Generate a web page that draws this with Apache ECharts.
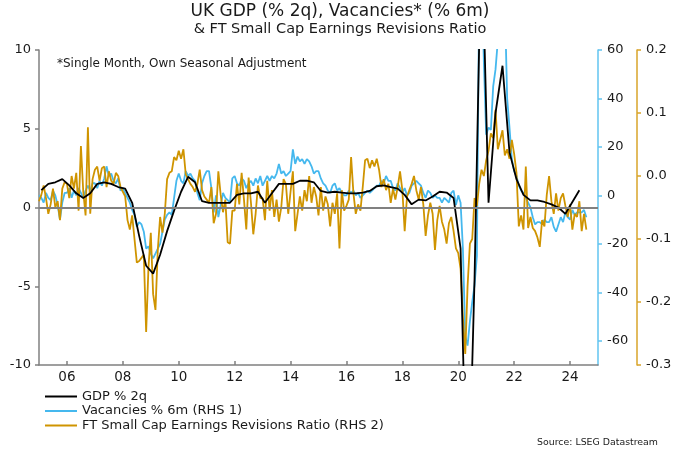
<!DOCTYPE html>
<html>
<head>
<meta charset="utf-8">
<script src="https://cdn.jsdelivr.net/npm/echarts@6.0.0/dist/echarts.min.js"></script>
<style>
html,body{margin:0;padding:0;background:#fff;}
#chart{width:680px;height:453px;}
</style>
</head>
<body>
<div id="chart"></div>
<script>
// ---- data ----
const START_YEAR = 2005;           // first month / quarter of all series
const xTickYears = [2006, 2008, 2010, 2012, 2014, 2016, 2018, 2020, 2022, 2024];
const gdpTicks = [-10, -5, 0, 5, 10];
const vacTicks = [-60, -40, -20, 0, 20, 40, 60];
const revTicks = [-0.3, -0.2, -0.1, 0, 0.1, 0.2];

// GDP % 2q, quarterly from 2005 Q1 (plotted mid-quarter)
const gdp2q = [
  1.1, 1.5, 1.6, 1.8,
  1.4, 0.9, 0.6, 0.9,
  1.5, 1.6, 1.5, 1.3,
  1.2, 0.3, -1.8, -3.7,
  -4.2, -3.0, -1.5, -0.2,
  1.0, 1.95, 1.6, 0.4,
  0.3, 0.3, 0.3, 0.3,
  0.8, 0.9, 0.9, 1.0,
  0.3, 0.9, 1.5, 1.5,
  1.5, 1.7, 1.7, 1.6,
  1.05, 0.95, 1.0, 0.95,
  0.9, 0.9, 0.95, 1.05,
  1.35, 1.4, 1.3, 1.2,
  0.8, 0.2, 0.5, 0.45,
  0.7, 1.0, 0.95, 0.6,
  -2.6, -21, -4.5, 18,
  0.3, 6.0, 9.0, 3.5,
  1.8, 0.8, 0.45, 0.45,
  0.35, 0.2, 0.0, -0.4,
  0.35, 1.1
];

// Vacancies % 6m, monthly from Jan 2005
const vacancies6m = [
  0, -1, -3, 1, -1, -2, 2, 0, -4, -10, -3, 1,
  1, 3, -1, 2, 0, 3, 1, -1, 2, 4, 2, 5,
  5, 3, 6, 4, 7, 12, 8, 9, 6, 5, 7, 2,
  3, 1, -1, -3, -6, -8, -13, -11, -12, -15, -22, -21,
  -24, -26, -24, -22, -20, -15, -10, -8, -7, -8, -1, 6,
  9, 6, 5, 10, 8, 9, 7, 6, 1, -2, 5, 8,
  10, 10, 3, -7, 0, -9, -4, 1, -1, -2, -3, 7,
  8, 5, 4, 7, 6, 3, 5, 6, 4, 7, 5, 8,
  4, 6, 8, 6, 8, 7, 9, 13, 9, 10, 8, 9,
  10, 19, 13, 16, 14, 15, 13, 15, 14, 12, 9, 10,
  10, 7, 5, 4, 2, 1, 4, 5, 2, 3, 1, 0,
  0, 2, 1, 2, 0, 1, -1, 0, 1, 2, 1, 2,
  3, 4, 4, 6, 5, 8, 6, 6, 3, 2, 5, 3,
  1, 3, 0, 1, 4, 5, 6, 5, 4, 1, -1, 2,
  1, -1, 0, -1, -1, -3, -1, -2, -3, 1, 2, -4,
  0, -3, -22, -58, -62, -52, -44, -37, -25, 85, 95, 55,
  25, 28, 27, 45, 52, 64, 95, 100, 80, 40, 28, 15,
  10, 8, 4, 2, 1, -1, -3, -5, -9, -12, -11, -11,
  -12, -10, -11, -11, -9, -13, -15, -12, -9, -11, -7, -9,
  -10, -6, -8, -7, -7, -7, -6, -9
];

// FT Small Cap earnings revisions ratio, monthly from Jan 2005
const revisionsRatio = [
  -0.04, -0.03, -0.015, -0.035, -0.06, -0.045, -0.02, -0.05, -0.04, -0.07, -0.02, -0.01,
  -0.0125, -0.035, 0.0, -0.02, 0.005, -0.055, 0.0475, -0.025, -0.0625, 0.0775, -0.06, -0.005,
  0.01, 0.015, -0.0075, 0.0125, 0.015, -0.0175, 0.0075, -0.0075, -0.0125, 0.005, 0.0, -0.0175,
  -0.025, -0.0325, -0.07, -0.085, -0.0625, -0.1, -0.1375, -0.135, -0.13, -0.125, -0.2475, -0.145,
  -0.09, -0.1875, -0.2125, -0.1175, -0.065, -0.09, -0.06, -0.005, 0.005, 0.0075, 0.03, 0.025,
  0.04, 0.0275, 0.0425, 0.0025, -0.005, -0.0125, -0.0175, -0.025, -0.0125, 0.01, -0.0225, -0.0325,
  -0.0375, -0.0425, -0.0175, -0.075, -0.06, 0.0075, -0.03, -0.0575, -0.0375, -0.105, -0.1075, -0.055,
  -0.055, -0.0125, -0.045, 0.005, -0.0375, -0.085, -0.0025, -0.0425, -0.0925, -0.06, -0.015, -0.035,
  -0.035, -0.07, -0.0075, -0.055, -0.0225, -0.065, -0.0375, -0.0725, -0.05, -0.005, -0.0125, -0.06,
  -0.025, 0.0075, -0.0875, -0.06, -0.0325, -0.055, -0.0225, -0.04, 0.0, -0.0425, -0.0175, -0.0325,
  -0.0625, -0.0175, -0.055, -0.0325, -0.045, -0.08, -0.0425, -0.06, -0.0275, -0.115, -0.0225, -0.055,
  -0.0475, -0.0375, 0.03, -0.0275, -0.06, -0.045, -0.055, -0.0175, 0.025, 0.0275, 0.0125, 0.025,
  0.015, 0.0275, 0.01, -0.0175, -0.005, -0.0225, -0.0125, -0.0425, -0.02, -0.0375, -0.0175, 0.0075,
  -0.0225, -0.0875, -0.0325, -0.0225, -0.0125, 0.0, -0.0225, -0.0375, -0.0175, -0.045, -0.095, -0.0625,
  -0.0425, -0.06, -0.1175, -0.07, -0.0475, -0.0725, -0.085, -0.1075, -0.075, -0.065, -0.0875, -0.115,
  -0.1225, -0.1475, -0.225, -0.2825, -0.175, -0.1075, -0.1, -0.035, -0.0475, -0.0125, 0.01, 0.0,
  0.025, 0.04, 0.0675, 0.06, 0.105, 0.0425, 0.0575, 0.0725, 0.0325, 0.0425, 0.0275, 0.0575,
  0.035, 0.005, -0.08, -0.0625, -0.085, 0.015, -0.0825, -0.065, -0.0825, -0.0875, -0.0975, -0.1125,
  -0.07, -0.08, -0.03, 0.0, -0.04, -0.06, -0.0275, -0.055, -0.035, -0.0275, -0.0475, -0.065,
  -0.045, -0.085, -0.06, -0.065, -0.04, -0.0875, -0.06, -0.085
];

const seriesNames = ['GDP % 2q', 'Vacancies % 6m (RHS 1)', 'FT Small Cap Earnings Revisions Ratio (RHS 2)'];

// ---- build ----
const FONT = 'DejaVu Sans';
const TXT = '#1a1a1a';
const GREY = '#808080';
const BLUE = '#45b8ee';
const BLUE_AXIS = '#62c4f0';
const GOLD = '#cf9400';
const GOLD_AXIS = '#d9a42a';

const gdpData = gdp2q.map((v, i) => [START_YEAR + (3 * i + 1) / 12, v]);
const vacData = vacancies6m.map((v, i) => [START_YEAR + i / 12, v]);
const revData = revisionsRatio.map((v, i) => [START_YEAR + i / 12, v]);

const chart = echarts.init(document.getElementById('chart'), null, {renderer: 'canvas'});
chart.setOption({
  animation: false,
  backgroundColor: '#fff',
  textStyle: {fontFamily: FONT},
  title: [
    {text: 'UK GDP (% 2q), Vacancies* (% 6m)', left: 'center', top: 3, padding: 0,
     textStyle: {fontFamily: FONT, fontSize: 17, fontWeight: 'normal', color: TXT}},
    {text: '& FT Small Cap Earnings Revisions Ratio', left: 'center', top: 22, padding: 0,
     textStyle: {fontFamily: FONT, fontSize: 14.5, fontWeight: 'normal', color: TXT}},
    {text: '*Single Month, Own Seasonal Adjustment', left: 57, top: 58, padding: 0,
     textStyle: {fontFamily: FONT, fontSize: 12, fontWeight: 'normal', color: TXT}},
    {text: 'Source: LSEG Datastream', right: 22, top: 438, padding: 0,
     textStyle: {fontFamily: FONT, fontSize: 9.4, fontWeight: 'normal', color: TXT}}
  ],
  legend: {
    data: seriesNames,
    orient: 'vertical',
    left: 45, top: 389.5,
    padding: 0,
    itemGap: 0.5,
    itemWidth: 32, itemHeight: 2,
    icon: 'rect',
    selectedMode: false,
    textStyle: {fontFamily: FONT, fontSize: 13, color: TXT, lineHeight: 14}
  },
  grid: {left: 39, right: 82, top: 50, bottom: 88, containLabel: false},
  xAxis: {
    type: 'value', min: 2005, max: 2025,
    axisLine: {show: true, onZero: false, lineStyle: {color: GREY, width: 1.5}},
    axisTick: {show: true, inside: true, length: 4, customValues: xTickYears, lineStyle: {color: GREY, width: 1.5}},
    axisLabel: {customValues: xTickYears, color: TXT, fontSize: 13.5, margin: 5, fontFamily: FONT,
                formatter: v => String(v).slice(2)},
    splitLine: {show: false}
  },
  yAxis: [
    {
      type: 'value', min: -10, max: 10, interval: 5, position: 'left',
      axisLine: {show: true, lineStyle: {color: GREY, width: 1.5}},
      axisTick: {show: true, length: 4, lineStyle: {color: GREY, width: 1.5}},
      axisLabel: {color: TXT, fontSize: 13, margin: 8, fontFamily: FONT},
      splitLine: {show: false}
    },
    {
      type: 'value', min: -70, max: 60, position: 'right', offset: 0,
      axisLine: {show: true, lineStyle: {color: BLUE_AXIS, width: 1.5}},
      axisTick: {show: true, length: 4, customValues: vacTicks, lineStyle: {color: BLUE_AXIS, width: 1.5}},
      axisLabel: {customValues: vacTicks, color: TXT, fontSize: 13, margin: 9, fontFamily: FONT},
      splitLine: {show: false}
    },
    {
      type: 'value', min: -0.3, max: 0.2, position: 'right', offset: 39,
      axisLine: {show: true, lineStyle: {color: GOLD_AXIS, width: 1.5}},
      axisTick: {show: true, length: 4, customValues: revTicks, lineStyle: {color: GOLD_AXIS, width: 1.5}},
      axisLabel: {customValues: revTicks, color: TXT, fontSize: 13, margin: 9, fontFamily: FONT,
                  formatter: v => (Math.abs(v) < 1e-9 ? 0 : v).toFixed(1)},
      splitLine: {show: false}
    }
  ],
  series: [
    {
      name: 'zero', type: 'line', yAxisIndex: 0, data: [], silent: true, z: 1,
      markLine: {silent: true, symbol: 'none', label: {show: false},
                 lineStyle: {color: GREY, width: 2, type: 'solid'},
                 data: [{yAxis: 0}]}
    },
    {
      name: seriesNames[1], type: 'line', yAxisIndex: 1, data: vacData, z: 2,
      showSymbol: false, symbol: 'none', clip: true,
      lineStyle: {color: BLUE, width: 1.8}, itemStyle: {color: BLUE}
    },
    {
      name: seriesNames[2], type: 'line', yAxisIndex: 2, data: revData, z: 3,
      showSymbol: false, symbol: 'none', clip: true,
      lineStyle: {color: GOLD, width: 1.8}, itemStyle: {color: GOLD}
    },
    {
      name: seriesNames[0], type: 'line', yAxisIndex: 0, data: gdpData, z: 4,
      showSymbol: false, symbol: 'none', clip: true,
      lineStyle: {color: '#000', width: 1.8}, itemStyle: {color: '#000'}
    }
  ]
});
</script>
</body>
</html>
